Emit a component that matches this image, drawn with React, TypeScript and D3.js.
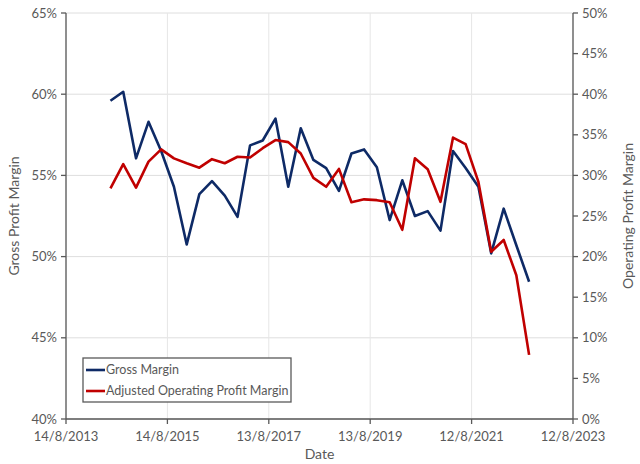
import React from "react";
import * as d3 from "d3";

const dates: string[] = [
  "2014-06-30","2014-09-30","2014-12-31","2015-03-31","2015-06-30","2015-09-30","2015-12-31","2016-03-31",
  "2016-06-30","2016-09-30","2016-12-31","2017-03-31","2017-06-30","2017-09-30","2017-12-31","2018-03-31",
  "2018-06-30","2018-09-30","2018-12-31","2019-03-31","2019-06-30","2019-09-30","2019-12-31","2020-03-31",
  "2020-06-30","2020-09-30","2020-12-31","2021-03-31","2021-06-30","2021-09-30","2021-12-31","2022-03-31",
  "2022-06-30","2022-09-30",
];
const grossMargin: number[] = [
  59.6, 60.15, 56.05, 58.3, 56.5, 54.3, 50.75, 53.85, 54.65, 53.75, 52.45, 56.85,
  57.15, 58.5, 54.3, 57.9, 55.95, 55.45, 54.05, 56.35, 56.6, 55.5, 52.25, 54.7,
  52.5, 52.8, 51.6, 56.5, 55.45, 54.3, 50.2, 52.95, 50.7, 48.45,
];
const operatingMargin: number[] = [
  28.4, 31.4, 28.5, 31.7, 33.2, 32.1, 31.5, 30.95, 32.0, 31.5, 32.3, 32.2,
  33.35, 34.35, 34.1, 32.7, 29.7, 28.6, 30.8, 26.7, 27.05, 26.95, 26.7, 23.3,
  32.1, 30.75, 26.75, 34.65, 33.85, 29.2, 20.6, 22.05, 17.7, 7.9,
];
const xTickLabels: string[] = ["14/8/2013", "14/8/2015", "13/8/2017", "13/8/2019", "12/8/2021", "12/8/2023"];
const leftTicks: number[] = [40, 45, 50, 55, 60, 65];
const rightTicks: number[] = [0, 5, 10, 15, 20, 25, 30, 35, 40, 45, 50];
const seriesNames: string[] = ["Gross Margin", "Adjusted Operating Profit Margin"];

const W = 640, H = 464;
const L = 66, R = 573, T = 13, B = 419;
const FONT = "Lato, 'Open Sans', sans-serif";
const TXT = "#595959";
const BLUE = "#0e2a66";
const RED = "#c00000";

export default function App() {
  const parse = d3.timeParse("%Y-%m-%d");
  const tickDates = xTickLabels.map((s) => {
    const [d, m, y] = s.split("/").map(Number);
    return new Date(y, m - 1, d);
  });
  const x = d3.scaleTime().domain([tickDates[0], tickDates[tickDates.length - 1]]).range([L, R]);
  const yL = d3.scaleLinear().domain([40, 65]).range([B, T]);
  const yR = d3.scaleLinear().domain([0, 50]).range([B, T]);
  const pts = dates.map((d) => parse(d) as Date);

  const lineL = d3.line<number>().x((_, i) => x(pts[i])).y((v) => yL(v));
  const lineR = d3.line<number>().x((_, i) => x(pts[i])).y((v) => yR(v));

  return (
    <svg width={W} height={H} style={{ position: "absolute", left: 0, top: 0, background: "#fff" }}>
      <rect x={0} y={0} width={W} height={H} fill="#fff" />
      {/* horizontal gridlines */}
      {leftTicks.map((t) => (
        <line key={"hg" + t} x1={L} x2={R} y1={yL(t)} y2={yL(t)} stroke="#dedede" strokeWidth={1} />
      ))}
      {/* vertical gridlines */}
      {tickDates.map((d, i) => (
        <line key={"vg" + i} x1={x(d)} x2={x(d)} y1={T} y2={B} stroke="#e6e6e6" strokeWidth={1} />
      ))}
      {/* axes */}
      <line x1={L} x2={L} y1={T} y2={B} stroke="#595959" strokeWidth={1.3} />
      <line x1={R} x2={R} y1={T} y2={B} stroke="#595959" strokeWidth={1.3} />
      <line x1={L} x2={R} y1={B} y2={B} stroke="#595959" strokeWidth={1.3} />
      {leftTicks.map((t) => (
        <g key={"lt" + t}>
          <line x1={L - 5} x2={L} y1={yL(t)} y2={yL(t)} stroke="#595959" strokeWidth={1.3} />
          <text x={L - 9} y={yL(t)} dy="0.35em" textAnchor="end" fontSize={13} fill={TXT} fontFamily={FONT}>
            {t}%
          </text>
        </g>
      ))}
      {rightTicks.map((t) => (
        <g key={"rt" + t}>
          <line x1={R} x2={R + 5} y1={yR(t)} y2={yR(t)} stroke="#595959" strokeWidth={1.3} />
          <text x={R + 9} y={yR(t)} dy="0.35em" textAnchor="start" fontSize={13} fill={TXT} fontFamily={FONT}>
            {t}%
          </text>
        </g>
      ))}
      {tickDates.map((d, i) => (
        <g key={"xt" + i}>
          <line x1={x(d)} x2={x(d)} y1={B} y2={B + 5} stroke="#595959" strokeWidth={1.3} />
          <text x={x(d)} y={B + 22} textAnchor="middle" fontSize={13} fill={TXT} fontFamily={FONT}>
            {xTickLabels[i]}
          </text>
        </g>
      ))}
      {/* axis titles */}
      <text x={(L + R) / 2} y={459} textAnchor="middle" fontSize={14} fill={TXT} fontFamily={FONT}>Date</text>
      <text transform={`translate(19,${(T + B) / 2}) rotate(-90)`} textAnchor="middle" fontSize={14} fill={TXT} fontFamily={FONT}>
        Gross Profit Margin
      </text>
      <text transform={`translate(633,${(T + B) / 2}) rotate(-90)`} textAnchor="middle" fontSize={14} fill={TXT} fontFamily={FONT}>
        Operating Profit Margin
      </text>
      {/* series */}
      <path d={lineL(grossMargin) || ""} fill="none" stroke={BLUE} strokeWidth={2.6} strokeLinejoin="round" />
      <path d={lineR(operatingMargin) || ""} fill="none" stroke={RED} strokeWidth={2.6} strokeLinejoin="round" />
      {/* legend */}
      <g>
        <rect x={83} y={358} width={208} height={44} fill="#fff" stroke="#595959" strokeWidth={1.3} />
        {seriesNames.map((n, i) => (
          <g key={n}>
            <line x1={86} x2={105} y1={370 + i * 21} y2={370 + i * 21} stroke={i === 0 ? BLUE : RED} strokeWidth={2.6} />
            <text x={106} y={370 + i * 21} dy="0.35em" fontSize={12.5} fill={TXT} fontFamily={FONT}>{n}</text>
          </g>
        ))}
      </g>
    </svg>
  );
}
